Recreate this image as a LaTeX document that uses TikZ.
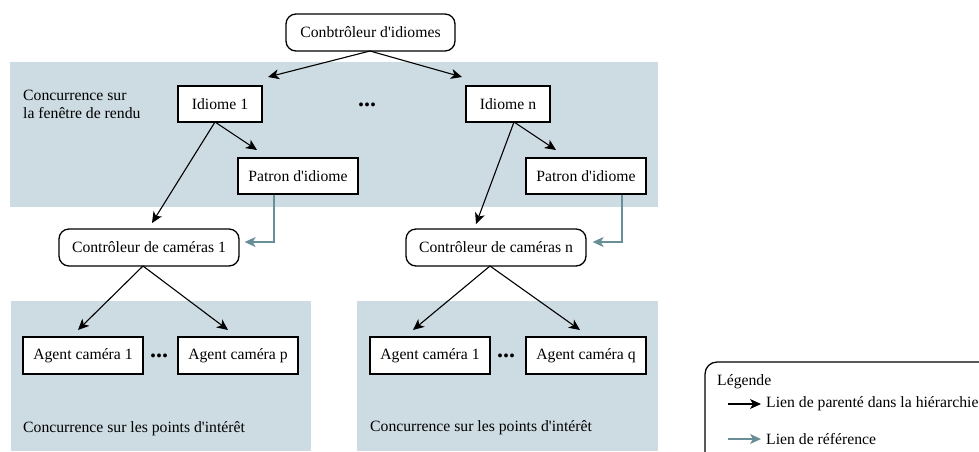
\documentclass[tikz,border=0pt]{standalone}
\usepackage{fontspec}
\setmainfont{Liberation Serif}[Ligatures=TeXOff]
\usetikzlibrary{arrows.meta}
\definecolor{bandcol}{RGB}{205,219,226}
\definecolor{refcol}{RGB}{104,142,152}
\tikzset{
  every node/.style={font=\fontsize{15.7}{18}\selectfont},
  sqbox/.style={draw=black, line width=1.3pt, fill=white, inner sep=0pt, minimum height=36pt},
  rbox/.style={draw=black, line width=1.3pt, fill=white, inner sep=0pt, minimum height=37pt, rounded corners=10pt},
  band/.style={fill=bandcol, draw=none},
  lbl/.style={inner sep=0pt, anchor=west, align=left},
  dots/.style={inner sep=0pt, font=\fontsize{24}{24}\selectfont\bfseries},
  arr/.style={draw=black, line width=1.1pt, -{Stealth[length=11pt,width=10pt,inset=3pt]}},
  refarr/.style={draw=refcol, line width=1.1pt, -{Stealth[length=11pt,width=10pt,inset=3pt]}},
}
\begin{document}
\begin{tikzpicture}[x=1pt,y=-1pt]
\useasboundingbox (0,0) rectangle (979,451);
\clip (0,0) rectangle (979,451);
% bands
\fill[band] (10,62) rectangle (658,207);
\fill[band] (11,301) rectangle (311,451);
\fill[band] (357,301) rectangle (658,451);
% nodes
\node[rbox, minimum width=169pt] (top) at (370.5,32.5) {Conbtrôleur d'idiomes};
\node[sqbox, minimum width=84pt] (id1) at (220,104) {Idiome 1};
\node[sqbox, minimum width=84pt] (idn) at (508,104) {Idiome n};
\node[dots] (d1) at (367,105) {...};
\node[sqbox, minimum width=120pt] (pat1) at (298,176) {Patron d'idiome};
\node[sqbox, minimum width=120pt] (patn) at (586,176) {Patron d'idiome};
\node[rbox, minimum width=180pt] (cc1) at (149,247.5) {Contrôleur de caméras 1};
\node[rbox, minimum width=180pt] (ccn) at (496,247.5) {Contrôleur de caméras n};
\node[sqbox, minimum width=120pt, minimum height=37pt] (ag1) at (83,355.5) {Agent caméra 1};
\node[sqbox, minimum width=120pt, minimum height=37pt] (agp) at (238,355.5) {Agent caméra p};
\node[dots] (d2) at (159,356) {...};
\node[sqbox, minimum width=120pt, minimum height=37pt] (agn1) at (430,355.5) {Agent caméra 1};
\node[sqbox, minimum width=120pt, minimum height=37pt] (agq) at (586,355.5) {Agent caméra q};
\node[dots] (d3) at (506,356) {...};
% texts
\node[lbl] (t1) at (23,104) {Concurrence sur\\la fenêtre de rendu};
\node[lbl] (t2) at (23,429) {Concurrence sur les points d'intérêt};
\node[lbl] (t3) at (370,428) {Concurrence sur les points d'intérêt};
% arrow end points
\coordinate (s0) at (370,51);
\coordinate (e1) at (268,77);
\coordinate (e2) at (462,77);
\coordinate (s1) at (215,122);
\coordinate (e3) at (152,223);
\coordinate (e4) at (257,150);
\coordinate (sn) at (514,122);
\coordinate (e5) at (476,224);
\coordinate (e6) at (556,150);
\coordinate (sc1) at (143,266);
\coordinate (e7) at (78,330);
\coordinate (e8) at (228,330);
\coordinate (scn) at (490,266);
\coordinate (e9) at (413,330);
\coordinate (e10) at (580,330);
% hierarchy arrows
\draw[arr] (s0) -- (e1);
\draw[arr] (s0) -- (e2);
\draw[arr] (s1) -- (e3);
\draw[arr] (s1) -- (e4);
\draw[arr] (sn) -- (e5);
\draw[arr] (sn) -- (e6);
\draw[arr] (sc1) -- (e7);
\draw[arr] (sc1) -- (e8);
\draw[arr] (scn) -- (e9);
\draw[arr] (scn) -- (e10);
% reference arrows
\draw[refarr] (pat1.south -| 274,0) -- (274,242) -- ([xshift=5pt]cc1.east |- 0,242);
\draw[refarr] (patn.south -| 622,0) -- (622,242) -- ([xshift=6pt]ccn.east |- 0,242);
% legend
\draw[line width=1.3pt, rounded corners=12pt] (705,362) rectangle (1000,470);
\node[lbl] (lg) at (717,382) {Légende};
\coordinate (la1) at (728,404);
\coordinate (la2) at (761,404);
\coordinate (lb1) at (728,439);
\coordinate (lb2) at (761,439);
\draw[arr] (la1) -- (la2);
\draw[refarr] (lb1) -- (lb2);
\node[lbl] (l1) at (766,404) {Lien de parenté dans la hiérarchie};
\node[lbl] (l2) at (766,439) {Lien de référence};
\end{tikzpicture}
\end{document}
